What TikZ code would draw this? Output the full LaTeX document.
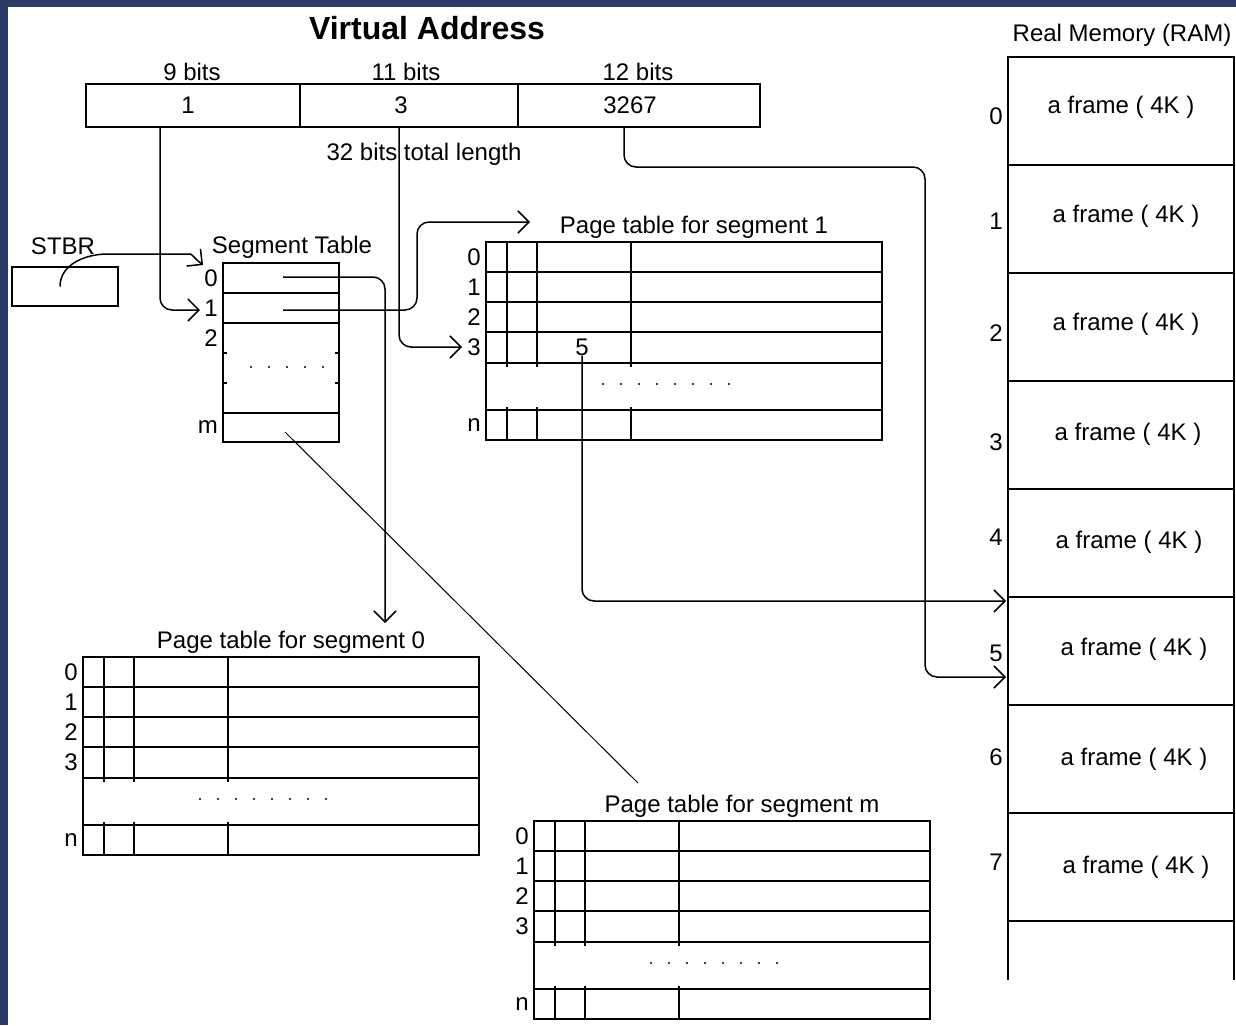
\documentclass[tikz,border=0pt]{standalone}
\usepackage{fontspec}
\setmainfont{Liberation Sans}
\usepackage{tikz}
\usetikzlibrary{positioning,arrows.meta,calc}
\definecolor{edgeblue}{HTML}{2B3A67}
\tikzset{
  txt/.style    ={font=\fontsize{24}{27}\selectfont, inner sep=0pt},
  ttl/.style    ={font=\fontsize{32}{35}\selectfont\bfseries, inner sep=0pt},
  tline/.style  ={line width=1.5pt},
  field/.style  ={draw, tline, txt, minimum height=43pt, outer sep=0pt, anchor=north west},
  ptbox/.style  ={draw, tline, minimum width=396pt, minimum height=198pt, inner sep=0pt,
                  outer sep=0pt, anchor=north west},
  segbox/.style ={draw, tline, minimum width=116pt, minimum height=179pt, inner sep=0pt,
                  outer sep=0pt, anchor=north west},
  ramcell/.style={draw, tline, minimum width=226pt, minimum height=108pt, inner sep=0pt,
                  outer sep=0pt, anchor=north west},
  conn/.style   ={tline, rounded corners=12pt},
  arr/.style    ={conn, -{Straight Barb[length=11pt,width=22pt]}},
}
% page table: name, x, y, title
\newcommand{\pagetable}[4]{%
  \node[ptbox] (#1) at (#2,#3) {};
  \node[txt, anchor=base] (#1title) at ($(#1.north)+(10,-9)$) {#4};
  \foreach \yo in {30,60,90,121,168}
    \draw[tline] ($(#1.north west)+(0,\yo)$) -- ($(#1.north east)+(0,\yo)$);
  \foreach \xo in {21,51,145} {
    \draw[tline] ($(#1.north west)+(\xo,0)$) -- ($(#1.north west)+(\xo,125)$);
    \draw[tline] ($(#1.north west)+(\xo,165)$) -- ($(#1.south west)+(\xo,0)$);
  }
  \foreach \row in {0,...,3}
    \node[txt, anchor=east] at ($(#1.north west)+(-5,15+30*\row)$) {\row};
  \node[txt, anchor=east] at ($(#1.north west)+(-5,183)$) {n};
  \foreach \k in {0,...,7}
    \fill ($(#1.north west)+(117+18*\k,142)$) circle (1.1pt);
}

\begin{document}
\begin{tikzpicture}[x=1pt,y=-1pt]
  \useasboundingbox (0,0) rectangle (1236,1025);
  \fill[edgeblue] (0,0) rectangle (1236,1025);
  \fill[white] (8,7) rectangle (1236,1025);

  % virtual address
  \node[ttl, anchor=base] (vatitle) at (427,40) {Virtual Address};
  \node[field, minimum width=214pt] (vaf1) at (86,84) {};
  \node[field, minimum width=218pt, right=0pt of vaf1] (vaf2) {};
  \node[field, minimum width=242pt, right=0pt of vaf2] (vaf3) {};
  \node[txt] at ($(vaf1.center)+(-5,0)$) {1};
  \node[txt] at ($(vaf2.center)+(-8,0)$) {3};
  \node[txt] at ($(vaf3.center)+(-9,0)$) {3267};
  \node[txt, anchor=base] at (192,80) {9 bits};
  \node[txt, anchor=base] at (406,80) {11 bits};
  \node[txt, anchor=base] at (638,80) {12 bits};
  \node[txt, anchor=base] (total) at (424,160) {32 bits total length};

  % STBR and segment table
  \node[txt, anchor=base] at (63,254) {STBR};
  \node[draw, tline, minimum width=106pt, minimum height=39pt, inner sep=0pt, outer sep=0pt,
        anchor=north west] (stbr) at (12,267) {};
  \node[txt, anchor=base] (segtitle) at (292,253) {Segment Table};
  \node[segbox] (segtab) at (223,263) {};
  \foreach \yo in {30,60,150}
    \draw[tline] ($(segtab.north west)+(0,\yo)$) -- ($(segtab.north east)+(0,\yo)$);
  \foreach \yo in {90,120} {
    \draw[tline] ($(segtab.north west)+(0,\yo)$) -- +(4,0);
    \draw[tline] ($(segtab.north east)+(0,\yo)$) -- +(-4,0);
  }
  \foreach \k in {0,...,4}
    \fill ($(segtab.north west)+(28+18*\k,104)$) circle (1.1pt);
  \foreach \lab/\yo in {0/15, 1/45, 2/75, m/164}
    \node[txt, anchor=east] at ($(segtab.north west)+(-5,\yo)$) {\lab};

  % page tables
  \pagetable{pt1}{486}{242}{Page table for segment 1}
  \pagetable{pt0}{83}{657}{Page table for segment 0}
  \pagetable{ptm}{534}{821}{Page table for segment m}
  \node[txt] (pt1five) at ($(pt1.north west)+(96,105)$) {5};

  % real memory
  \node[txt, anchor=base] (ramtitle) at (1122,42) {Real Memory (RAM)};
  \foreach \i/\ny/\tx/\tb in {0/116/1121/113, 1/221/1126/222, 2/333/1126/330, 3/442/1128/440,
                              4/537/1129/548, 5/653/1134/655, 6/757/1134/765, 7/862/1136/873} {
    \node[ramcell] (ram\i) at (1008,{57+108*\i}) {};
    \node[txt, anchor=base] at (\tx,\tb) {a frame ( 4K )};
    \node[txt, anchor=east] at (1003,\ny) {\i};
  }
  \draw[tline] (ram7.south west) -- +(0,59);
  \draw[tline] (ram7.south east) -- +(0,59);

  % connectors
  \draw[arr] ($(stbr.center)+(-5,0)$) .. controls +(0,-22) and +(-35,0) ..
             ($(stbr.north east)+(2,-13)$) -- ($(segtab.north west)+(-45,-9)$)
             .. controls +(14,0) and +(-10,-8) .. ($(segtab.north west)+(-20,2)$);
  \draw[arr] ($(vaf1.south west)+(74,0)$) |- ($(segtab.north west)+(-23,47)$);
  \draw[arr] ($(vaf2.south west)+(99,0)$) |- ($(pt1.north west)+(-24,105)$);
  \draw[arr] ($(vaf3.south west)+(106,0)$) |- ($(vaf3.south west)+(407,40)$)
             |- ($(ram5.west)+(-2,26)$);
  \draw[arr] ($(segtab.north west)+(60,14)$) -| ($(pt0.north west)+(302,-34)$);
  \draw[arr] ($(segtab.north west)+(60,47)$) -| ($(pt1.north west)+(-69,-20)$)
             -- ($(pt1.north west)+(44,-20)$);
  \draw[line width=1pt] ($(segtab.north west)+(62,169)$) -- ($(ptm.north west)+(104,-38)$);
  \draw[arr] (pt1five.south) |- ($(ram5.north west)+(-2,4)$);
\end{tikzpicture}
\end{document}
